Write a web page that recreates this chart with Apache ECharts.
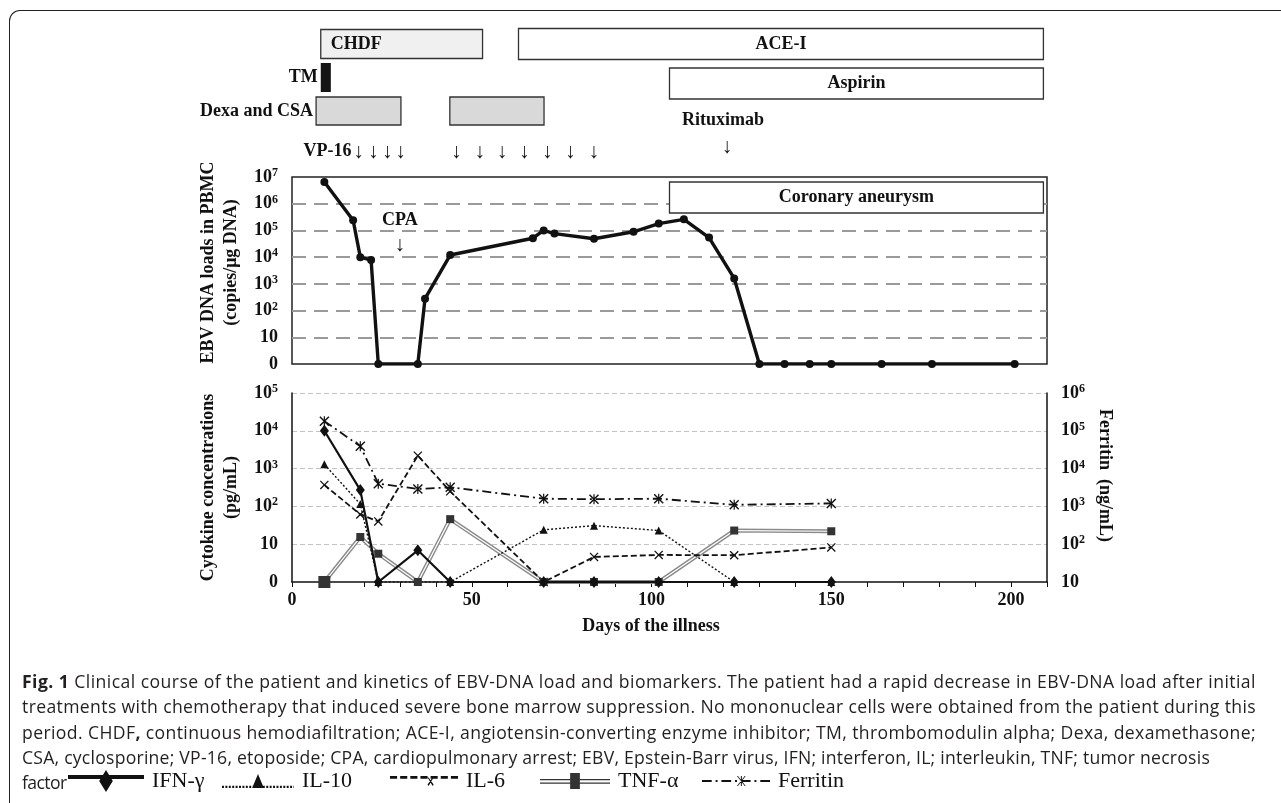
<!DOCTYPE html>
<html><head><meta charset="utf-8">
<script src="https://cdn.jsdelivr.net/npm/echarts@6/dist/echarts.min.js"></script>
<style>
html,body{margin:0;padding:0;background:#fff;width:1281px;height:803px;overflow:hidden}
#frame{position:absolute;left:9px;top:10px;width:1400px;height:900px;border-top:1.5px solid #222;border-left:1.5px solid #222;border-top-left-radius:11px;box-sizing:border-box}
#chart{position:absolute;left:0;top:0;width:1281px;height:803px}
#caption{position:absolute;left:22px;top:669px;width:1250px;font-family:'Open Sans','Noto Sans',sans-serif;font-size:17.6px;line-height:25.3px;color:#231f20}
#caption div{white-space:nowrap}
#caption .last{letter-spacing:-0.6px}
</style></head><body>
<div id="frame"></div>
<div id="chart"></div>
<div id="caption">
<div class="ln" data-w="1234"><b>Fig. 1</b> Clinical course of the patient and kinetics of EBV-DNA load and biomarkers. The patient had a rapid decrease in EBV-DNA load after initial</div>
<div class="ln" data-w="1234">treatments with chemotherapy that induced severe bone marrow suppression. No mononuclear cells were obtained from the patient during this</div>
<div class="ln" data-w="1234">period. CHDF<b>,</b> continuous hemodiafiltration; ACE-I, angiotensin-converting enzyme inhibitor; TM, thrombomodulin alpha; Dexa, dexamethasone;</div>
<div class="ln" data-w="1188">CSA, cyclosporine; VP-16, etoposide; CPA, cardiopulmonary arrest; EBV, Epstein-Barr virus, IFN; interferon, IL; interleukin, TNF; tumor necrosis</div>
<div class="last">factor</div>
</div>
<script>
// ---------------- DATA ----------------
const xMaxDay = 210;
// treatment periods (days of illness)
const chdfPeriod = [8, 53];
const aceiPeriod = [63, 209];
const tmPeriod = [8, 10.8];
const aspirinPeriod = [105, 209];
const dexaCsaPeriods = [[6.7, 30.3], [43.9, 70.1]];
const vp16Days = [18.5, 22.6, 26.5, 30.2, 45.7, 52.2, 58.4, 64.6, 71.0, 77.4, 83.9];
const rituximabDay = 121;
const cpaDay = 30;
const coronaryAneurysmPeriod = [105, 209];

// EBV DNA loads in PBMC (copies/ug DNA); 0 = undetectable
const ebvDays  = [9, 17, 19, 22, 24, 35, 37, 44, 67, 70, 73, 84, 95, 102, 109, 116, 123, 130, 137, 144, 150, 164, 178, 201];
const ebvLoads = [6.5e6, 2.4e5, 1.0e4, 7.8e3, 0, 0, 280, 1.2e4, 5.1e4, 1.0e5, 7.6e4, 4.9e4, 8.9e4, 1.8e5, 2.6e5, 5.4e4, 1.6e3, 0, 0, 0, 0, 0, 0, 0];

// cytokines (pg/mL) and ferritin (ng/mL)
const cytoDays = [9, 19, 24, 35, 44, 70, 84, 102, 123, 150];
const ifnGamma = [10000, 270, 0, 6.9, 0, 0, 0, 0, 0, 0];
const il10     = [1300, 115, 0, 0, 0, 24, 31, 23, 0, 0];
const il6      = [370, 61, 40, 2200, 250, 0, 4.6, 5.2, 5.1, 8.2];
const tnfAlpha = [0, 15.5, 5.6, 0, 46, 0, 0, 0, 23, 22];
const ferritin = [180000, 39000, 4000, 2900, 3200, 1600, 1550, 1600, 1100, 1200];

// tick labels
const xTickStep = 50;
const zeroTickLabel = '0';

// ---------------- CAPTION FIT ----------------
document.querySelectorAll('#caption .ln').forEach(el => {
  const target = +el.dataset.w;
  el.style.display = 'inline-block';
  const w = el.getBoundingClientRect().width;
  const n = el.textContent.length;
  el.style.letterSpacing = ((target - w) / n) + 'px';
  el.style.display = 'block';
});

// ---------------- CHART ----------------
const SERIF = "'Liberation Serif','DejaVu Serif',serif";
const INK = '#111';
const toLogAxis = v => (v === 0 ? 1 : v); // "0" is drawn at the axis bottom (1)

function powLabel(v) {
  const e = Math.round(Math.log10(v));
  if (e === 0) return zeroTickLabel;
  if (e === 1) return '10';
  return '10{s|' + e + '}';
}
const labelRich = { s: { fontFamily: SERIF, fontWeight: 'bold', fontSize: 12, color: INK, verticalAlign: 'top', lineHeight: 12 } };
const tickLabel = { fontFamily: SERIF, fontWeight: 'bold', fontSize: 18, color: INK, lineHeight: 20, rich: labelRich };
const boldText = { fontFamily: SERIF, fontWeight: 'bold', fontSize: 18, fill: INK };

function periodBar(o) {
  return function (params, api) {
    const a = api.coord([api.value(0), api.value(2)]);
    const b = api.coord([api.value(1), api.value(2)]);
    const cy = a[1] + (o.dy || 0);
    const ch = [{
      type: 'rect',
      shape: { x: a[0], y: cy - o.h / 2, width: b[0] - a[0], height: o.h },
      style: { fill: o.fill, stroke: o.stroke || null, lineWidth: 1.3 }
    }];
    if (o.label && (!o.firstOnly || params.dataIndex === 0)) {
      let x, align;
      if (o.pos === 'left') { x = a[0] - 3; align = 'right'; }
      else if (o.pos === 'insideLeft') { x = a[0] + 10; align = 'left'; }
      else { x = (a[0] + b[0]) / 2; align = 'center'; }
      ch.push({ type: 'text', style: Object.assign({ text: o.label, x, y: cy, align, verticalAlign: 'middle' }, boldText) });
    }
    return { type: 'group', children: ch };
  };
}
const arrowStyle = { fontFamily: SERIF, fontSize: 21, fill: INK };

// legend icon paths
function dots(w, y, h, d, g) { let p = ''; for (let x = 0; x < w; x += d + g) p += `M${x},${y}h${Math.min(d, w - x)}v${h}h-${Math.min(d, w - x)}Z`; return p; }
function dashDot(w, y, h) { let p = ''; let x = 0; const pat = [10, 4, 2, 4]; let i = 0; while (x < w) { const len = Math.min(pat[i % 4], w - x); if (i % 2 === 0) p += `M${x},${y}h${len}v${h}h-${len}Z`; x += pat[i % 4]; i++; } return p; }
const iconIFN = 'path://M0,5h78v4h-78Z M39,0L46,11L39,22L32,11Z';
const iconIL10 = 'path://' + dots(74, 11, 2, 2, 1.5) + 'M37,0L43,13L31,13Z';
const iconIL6 = 'path://' + dots(70, 3, 2, 7, 3) + 'M37,4L38,4L43,9L42,10Z M42,4L43,4L38,10L37,9Z';
const iconTNF = 'path://M0,6h72v1.3h-72Z M0,9.5h72v1.3h-72Z M31,0h10v16h-10Z';
const iconFer = 'path://' + dashDot(70, 4, 2) + 'M36,0L37,0L45,10L44,10Z M44,0L45,0L37,10L36,10Z M40,0h1v10h-1Z';

function legendAt(name, icon, left, w, h) {
  return {
    data: [{ name, icon }], left, top: 770, padding: 0, itemWidth: w, itemHeight: h,
    symbolKeepAspect: false, selectedMode: false,
    itemStyle: { borderWidth: 0 },
    textStyle: { fontFamily: SERIF, fontSize: 22, color: INK, padding: [0, 0, 0, 3] }
  };
}

const option = {
  animation: false,
  backgroundColor: 'transparent',
  legend: [
    legendAt('IFN-γ', iconIFN, 68, 76, 22),
    legendAt('IL-10', iconIL10, 222, 72, 14),
    legendAt('IL-6', iconIL6, 390, 68, 10),
    legendAt('TNF-α', iconTNF, 540, 70, 16),
    legendAt('Ferritin', iconFer, 702, 68, 10)
  ],
  grid: [
    { left: 292, top: 27, width: 755, height: 136 },
    { left: 292, top: 177, width: 755, height: 187, show: true, borderColor: '#222', borderWidth: 1.5 },
    { left: 292, top: 393, width: 755, height: 189 }
  ],
  xAxis: [
    { gridIndex: 0, type: 'value', min: 0, max: xMaxDay, show: false },
    { gridIndex: 1, type: 'value', min: 0, max: xMaxDay, axisLine: { show: false }, axisTick: { show: false }, axisLabel: { show: false }, splitLine: { show: false } },
    { gridIndex: 2, type: 'value', min: 0, max: xMaxDay, interval: xTickStep,
      axisLine: { show: true, lineStyle: { color: INK, width: 1.5 } },
      axisTick: { show: true, length: 5, lineStyle: { color: INK, width: 1 } },
      minorTick: { show: true, splitNumber: 5, length: 5, lineStyle: { color: INK, width: 1 } },
      splitLine: { show: false },
      axisLabel: { fontFamily: SERIF, fontWeight: 'bold', fontSize: 18, color: INK, margin: 9, showMaxLabel: false },
      name: 'Days of the illness', nameLocation: 'middle', nameGap: 35,
      nameTextStyle: { fontFamily: SERIF, fontWeight: 'bold', fontSize: 18, color: INK, padding: [0, 37, 0, 0] }
    }
  ],
  yAxis: [
    { gridIndex: 0, type: 'value', min: 0, max: 4, inverse: true, show: false },
    { gridIndex: 1, type: 'log', logBase: 10, min: 1, max: 1e7,
      axisLine: { show: false }, axisTick: { show: false },
      axisLabel: Object.assign({ formatter: powLabel, margin: 14 }, tickLabel),
      splitLine: { show: true, showMinLine: false, showMaxLine: false, lineStyle: { color: '#9a9a9a', width: 1.8, type: [14, 8] } },
      name: 'EBV DNA loads in PBMC\n(copies/μg DNA)', nameLocation: 'middle', nameRotate: 90, nameGap: 46,
      nameTextStyle: { fontFamily: SERIF, fontWeight: 'bold', fontSize: 18, color: INK, lineHeight: 23, padding: [0, 0, 0, 16] }
    },
    { gridIndex: 2, type: 'log', logBase: 10, min: 1, max: 1e5,
      axisLine: { show: true, lineStyle: { color: INK, width: 1.5 } }, axisTick: { show: false },
      axisLabel: Object.assign({ formatter: powLabel, margin: 14 }, tickLabel),
      splitLine: { show: true, showMinLine: false, lineStyle: { color: '#c4c4c4', width: 1, type: [5, 3] } },
      name: 'Cytokine concentrations\n(pg/mL)', nameLocation: 'middle', nameRotate: 90, nameGap: 46,
      nameTextStyle: { fontFamily: SERIF, fontWeight: 'bold', fontSize: 18, color: INK, lineHeight: 23 }
    },
    { gridIndex: 2, type: 'log', logBase: 10, min: 10, max: 1e6, position: 'right',
      axisLine: { show: true, lineStyle: { color: INK, width: 1.5 } }, axisTick: { show: false },
      axisLabel: Object.assign({ formatter: powLabel, margin: 14 }, tickLabel),
      splitLine: { show: false },
      name: 'Ferritin  (ng/mL)', nameLocation: 'middle', nameRotate: -90, nameGap: 44,
      nameTextStyle: { fontFamily: SERIF, fontWeight: 'bold', fontSize: 18, color: INK, padding: [0, 24, 0, 0] }
    }
  ],
  series: [
    // ---- treatments (top panel) ----
    { type: 'custom', xAxisIndex: 0, yAxisIndex: 0, encode: { x: [0, 1], y: 2 },
      data: [[chdfPeriod[0], chdfPeriod[1], 0.5]], renderItem: periodBar({ h: 29, fill: '#f0f0f0', stroke: '#333', label: 'CHDF', pos: 'insideLeft' }) },
    { type: 'custom', xAxisIndex: 0, yAxisIndex: 0, encode: { x: [0, 1], y: 2 },
      data: [[aceiPeriod[0], aceiPeriod[1], 0.5]], renderItem: periodBar({ h: 31, fill: '#fff', stroke: '#333', label: 'ACE-I', pos: 'center' }) },
    { type: 'custom', xAxisIndex: 0, yAxisIndex: 0, encode: { x: [0, 1], y: 2 },
      data: [[tmPeriod[0], tmPeriod[1], 1.5]], renderItem: periodBar({ h: 29, dy: -0.5, fill: '#151515', label: 'TM', pos: 'left' }) },
    { type: 'custom', xAxisIndex: 0, yAxisIndex: 0, encode: { x: [0, 1], y: 2 },
      data: [[aspirinPeriod[0], aspirinPeriod[1], 1.5]], renderItem: periodBar({ h: 31, dy: 5.5, fill: '#fff', stroke: '#333', label: 'Aspirin', pos: 'center' }) },
    { type: 'custom', xAxisIndex: 0, yAxisIndex: 0, encode: { x: [0, 1], y: 2 },
      data: dexaCsaPeriods.map(p => [p[0], p[1], 2.5]), renderItem: periodBar({ h: 28, dy: -1, fill: '#d9d9d9', stroke: '#333', label: 'Dexa and CSA', pos: 'left', firstOnly: true }) },
    { type: 'custom', xAxisIndex: 0, yAxisIndex: 0, encode: { x: 0, y: 1 },
      data: vp16Days.map(d => [d, 3.5]),
      renderItem: function (params, api) {
        const p = api.coord([api.value(0), api.value(1)]);
        const ch = [{ type: 'text', style: Object.assign({ text: '↓', x: p[0], y: p[1] + 6, align: 'center', verticalAlign: 'middle' }, arrowStyle) }];
        if (params.dataIndex === 0) ch.push({ type: 'text', style: Object.assign({ text: 'VP-16', x: p[0] - 7, y: p[1] + 5, align: 'right', verticalAlign: 'middle' }, boldText) });
        return { type: 'group', children: ch };
      } },
    { type: 'custom', xAxisIndex: 0, yAxisIndex: 0, encode: { x: 0, y: 1 },
      data: [[rituximabDay, 3.5]],
      renderItem: function (params, api) {
        const p = api.coord([api.value(0), api.value(1)]);
        return { type: 'group', children: [
          { type: 'text', style: Object.assign({ text: '↓', x: p[0], y: p[1] + 1, align: 'center', verticalAlign: 'middle' }, arrowStyle) },
          { type: 'text', style: Object.assign({ text: 'Rituximab', x: p[0] - 4, y: p[1] - 26, align: 'center', verticalAlign: 'middle' }, boldText) }
        ] };
      } },
    // ---- EBV panel ----
    { type: 'custom', xAxisIndex: 1, yAxisIndex: 1, encode: { x: [0, 1] },
      data: [[coronaryAneurysmPeriod[0], coronaryAneurysmPeriod[1]]],
      renderItem: function (params, api) {
        const a = api.coord([api.value(0), 1e7]);
        const b = api.coord([api.value(1), 1e7]);
        return { type: 'group', children: [
          { type: 'rect', shape: { x: a[0], y: a[1] + 5, width: b[0] - a[0], height: 31 }, style: { fill: '#fff', stroke: '#333', lineWidth: 1.3 } },
          { type: 'text', style: Object.assign({ text: 'Coronary aneurysm', x: (a[0] + b[0]) / 2, y: a[1] + 20.5, align: 'center', verticalAlign: 'middle' }, boldText) }
        ] };
      } },
    { type: 'custom', xAxisIndex: 1, yAxisIndex: 1, encode: { x: 0 },
      data: [[cpaDay]],
      renderItem: function (params, api) {
        const a = api.coord([api.value(0), 1e7]);
        return { type: 'group', children: [
          { type: 'text', style: Object.assign({ text: 'CPA', x: a[0], y: a[1] + 43, align: 'center', verticalAlign: 'middle' }, boldText) },
          { type: 'text', style: Object.assign({ text: '↓', x: a[0], y: a[1] + 68, align: 'center', verticalAlign: 'middle' }, arrowStyle) }
        ] };
      } },
    { name: 'EBV DNA', type: 'line', xAxisIndex: 1, yAxisIndex: 1, z: 5,
      data: ebvDays.map((d, i) => [d, toLogAxis(ebvLoads[i])]),
      symbol: 'circle', symbolSize: 8, lineStyle: { color: INK, width: 3.4 }, itemStyle: { color: INK } },
    // ---- cytokine panel ----
    { name: 'TNF-α outer', type: 'line', xAxisIndex: 2, yAxisIndex: 2, symbol: 'none', z: 2,
      data: cytoDays.map((d, i) => [d, toLogAxis(tnfAlpha[i])]), lineStyle: { color: '#8a8a8a', width: 4 } },
    { name: 'TNF-α inner', type: 'line', xAxisIndex: 2, yAxisIndex: 2, symbol: 'none', z: 2,
      data: cytoDays.map((d, i) => [d, toLogAxis(tnfAlpha[i])]), lineStyle: { color: '#fff', width: 1.2 } },
    { name: 'TNF-α', type: 'line', xAxisIndex: 2, yAxisIndex: 2, z: 4,
      data: cytoDays.map((d, i) => [d, toLogAxis(tnfAlpha[i])]),
      symbol: 'rect', symbolSize: (v, p) => (p.dataIndex === 0 ? 12 : 8),
      lineStyle: { width: 0, opacity: 0 }, itemStyle: { color: '#333' } },
    { name: 'IL-10', type: 'line', xAxisIndex: 2, yAxisIndex: 2, z: 3,
      data: cytoDays.map((d, i) => [d, toLogAxis(il10[i])]),
      symbol: 'triangle', symbolSize: 8, lineStyle: { color: INK, width: 1.4, type: [2, 2] }, itemStyle: { color: INK } },
    { name: 'IL-6', type: 'line', xAxisIndex: 2, yAxisIndex: 2, z: 3,
      data: cytoDays.map((d, i) => [d, toLogAxis(il6[i])]),
      symbol: 'path://M0,1L1,0L10,9L9,10Z M9,0L10,1L1,10L0,9Z', symbolSize: 9,
      lineStyle: { color: INK, width: 1.8, type: [6, 3] }, itemStyle: { color: INK } },
    { name: 'IFN-γ', type: 'line', xAxisIndex: 2, yAxisIndex: 2, z: 5,
      data: cytoDays.map((d, i) => [d, toLogAxis(ifnGamma[i])]),
      symbol: 'diamond', symbolSize: [9, 12], lineStyle: { color: INK, width: 2.2 }, itemStyle: { color: INK } },
    { name: 'Ferritin', type: 'line', xAxisIndex: 2, yAxisIndex: 3, z: 3,
      data: cytoDays.map((d, i) => [d, ferritin[i]]),
      symbol: 'path://M0,1L1,0L10,9L9,10Z M9,0L10,1L1,10L0,9Z M4.4,0h1.2v10h-1.2Z', symbolSize: 10,
      lineStyle: { color: INK, width: 1.8, type: [9, 4, 2, 4] }, itemStyle: { color: INK } }
  ]
};
const chart = echarts.init(document.getElementById('chart'));
chart.setOption(option);
</script>
</body></html>
